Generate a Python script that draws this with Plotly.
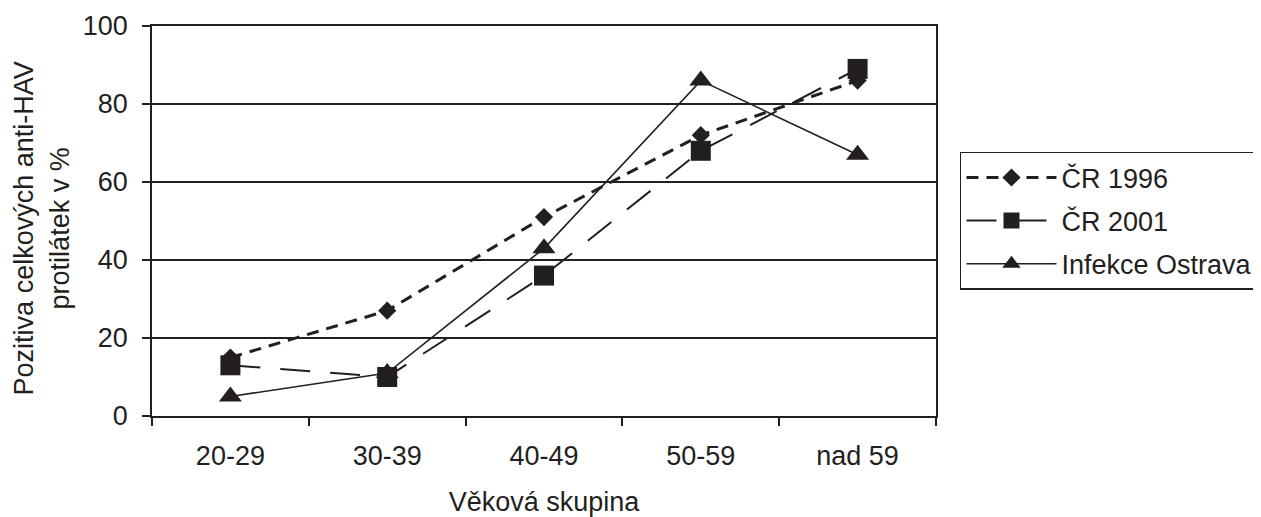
import plotly.graph_objects as go

categories = ["20-29", "30-39", "40-49", "50-59", "nad 59"]
cr1996 = [15, 27, 51, 72, 86]
cr2001 = [13, 10, 36, 68, 89]
ostrava = [5, 11, 43, 86, 67]
y_ticks = [0, 20, 40, 60, 80, 100]

INK = "#231f20"
FONT = "Liberation Sans, Arial, sans-serif"
FS = 27

fig = go.Figure()
fig.add_trace(go.Scatter(
    x=categories, y=cr1996, name="ČR 1996", mode="lines+markers",
    line=dict(color=INK, width=3, dash="12px,8px"),
    marker=dict(symbol="diamond", size=14, color=INK),
    legendgroup="a"))
fig.add_trace(go.Scatter(
    x=categories, y=cr2001, name="ČR 2001", mode="lines+markers",
    line=dict(color=INK, width=2, dash="30px,20px"),
    marker=dict(symbol="square", size=20, color=INK),
    legendgroup="b"))
fig.add_trace(go.Scatter(
    x=categories, y=ostrava, name="Infekce Ostrava", mode="lines+markers",
    line=dict(color=INK, width=1.6),
    marker=dict(symbol="triangle-up", size=20, color=INK),
    legendgroup="c"))

fig.update_layout(
    width=1253, height=509,
    margin=dict(l=144, r=325, t=18, b=101, autoexpand=False),
    paper_bgcolor="white", plot_bgcolor="white",
    font=dict(family=FONT, size=FS, color=INK),
    showlegend=True,
    legend=dict(
        x=1.0306, y=0.677, xanchor="left", yanchor="top",
        bordercolor=INK, borderwidth=1.5,
        font=dict(size=FS, color=INK),
        tracegroupgap=5, itemwidth=90,
    ),
    xaxis=dict(
        type="category", range=[-0.5, 4.5], automargin=False,
        showline=True, linecolor=INK, linewidth=1.5, mirror=True,
        ticks="outside", tickson="boundaries", ticklen=8, tickwidth=1.5, tickcolor=INK,
        showgrid=False, ticklabelstandoff=15,
        tickfont=dict(size=FS),
        title=dict(text="Věková skupina", font=dict(size=FS), standoff=22),
    ),
    yaxis=dict(
        range=[0, 100], tickvals=y_ticks, automargin=False,
        showline=True, linecolor=INK, linewidth=1.5, mirror=True,
        ticks="outside", ticklen=8, tickwidth=1.5, tickcolor=INK,
        showgrid=True, gridcolor=INK, gridwidth=1.5,
        zeroline=False, ticklabelstandoff=9,
        tickfont=dict(size=FS),
    ),
    annotations=[
        dict(text="Pozitiva celkových anti-HAV", xref="paper", yref="paper",
             x=0, y=0.481, xshift=-128, showarrow=False, textangle=-90,
             xanchor="center", yanchor="middle", font=dict(size=FS, color=INK)),
        dict(text="protilátek v %", xref="paper", yref="paper",
             x=0, y=0.481, xshift=-92, showarrow=False, textangle=-90,
             xanchor="center", yanchor="middle", font=dict(size=FS, color=INK)),
    ],
)

fig.write_html("out.html")
